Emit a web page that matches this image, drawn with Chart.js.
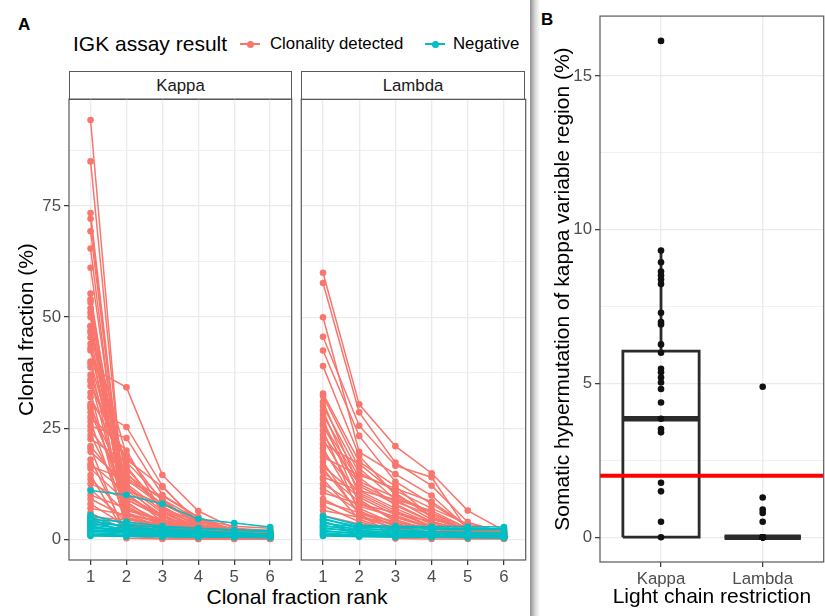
<!DOCTYPE html>
<html><head><meta charset="utf-8">
<script src="https://cdn.jsdelivr.net/npm/chart.js@4.4.1/dist/chart.umd.min.js"></script>
<style>
html,body{margin:0;padding:0;background:#fff}
body{position:relative;width:825px;height:616px;overflow:hidden;font-family:"Liberation Sans",Arial,Helvetica,sans-serif}
.abs{position:absolute;white-space:nowrap}
canvas{position:absolute;left:0;top:0}
.strip{position:absolute;box-sizing:border-box;border:1.2px solid #595959;background:#fff;color:#1a1a1a;font-size:16.8px;display:flex;align-items:center;justify-content:center}
.key{position:absolute;width:20px;height:10px}
.key .ln{position:absolute;left:0;right:0;top:4.25px;height:1.5px}
.key .dt{position:absolute;left:6.5px;top:1.5px;width:7px;height:7px;border-radius:50%}
</style></head><body>
<div class="abs" style="left:18px;top:15px;font-size:17px;font-weight:bold;line-height:20px">A</div>
<div class="abs" style="left:541px;top:10px;font-size:17px;font-weight:bold;line-height:20px">B</div>
<div class="abs" style="left:530px;top:0;width:10px;height:616px;background:linear-gradient(to right,#8f8f8f,#d6d6d6 50%,#fff)"></div>
<div id="legend"></div>
<div id="stripK" class="strip" style="left:69px;top:71px;width:223px;height:29px"></div>
<div id="stripL" class="strip" style="left:301px;top:71px;width:224px;height:29px"></div>
<div class="abs" id="xtitleA" style="left:147px;top:585px;width:300px;text-align:center;font-size:21px;line-height:24px;color:#000"></div>
<canvas id="cK" width="300" height="500"></canvas>
<canvas id="cL" width="240" height="500"></canvas>
<canvas id="cB" width="290" height="600"></canvas>
<script>
// ---------------- DATA ----------------
const ranks = [1, 2, 3, 4, 5, 6];
const seriesNames = ['Clonality detected', 'Negative'];
const legendTitle = 'IGK assay result';
const chainLabels = ['Kappa', 'Lambda'];
const xTitleA = 'Clonal fraction rank';
const yTitleA = 'Clonal fraction (%)';
const xTitleB = 'Light chain restriction';
const yTitleB = 'Somatic hypermutation of kappa variable region (%)';
const yMajorTicksA = [0, 25, 50, 75];
const yMinorTicksA = [12.5, 37.5, 62.5, 87.5];
const yMajorTicksB = [0, 5, 10, 15];
const yMinorTicksB = [2.5, 7.5, 12.5];

// clonal fraction (%) at ranks 1..6, one row per sample
const kappaDetected = [
  [94.3, 1.5, 1.0, 0.6, 0.4, 0.3],
  [85.0, 2.5, 1.5, 1.0, 0.6, 0.4],
  [73.4, 3.0, 2.0, 1.2, 0.8, 0.5],
  [72.1, 1.2, 0.8, 0.5, 0.4, 0.3],
  [69.3, 4.0, 2.5, 1.5, 1.0, 0.6],
  [65.4, 2.0, 1.5, 1.0, 0.7, 0.5],
  [61.1, 5.5, 3.0, 2.0, 1.2, 0.8],
  [55.3, 3.5, 2.0, 1.5, 1.0, 0.6],
  [54.0, 8.0, 4.0, 2.0, 1.5, 1.0],
  [53.3, 1.0, 0.6, 0.4, 0.3, 0.2],
  [52.0, 6.0, 3.5, 2.5, 1.5, 1.0],
  [51.0, 10.0, 5.0, 3.0, 2.0, 1.2],
  [50.0, 2.8, 1.8, 1.2, 0.9, 0.6],
  [48.0, 12.0, 6.0, 3.0, 2.0, 1.5],
  [47.9, 4.5, 3.0, 2.0, 1.0, 0.8],
  [47.0, 19.0, 8.5, 3.5, 1.5, 0.8],
  [46.5, 15.0, 7.0, 4.0, 2.5, 1.5],
  [45.4, 7.0, 4.0, 2.5, 1.5, 1.0],
  [44.0, 1.8, 1.2, 0.8, 0.5, 0.3],
  [43.0, 16.5, 6.5, 2.5, 1.0, 0.5],
  [42.5, 9.0, 5.0, 3.0, 2.0, 1.5],
  [40.0, 11.0, 8.0, 4.0, 2.0, 1.0],
  [39.5, 3.2, 2.0, 1.5, 1.0, 0.5],
  [38.7, 34.2, 14.5, 6.4, 2.5, 2.0],
  [37.0, 13.0, 9.8, 5.0, 1.5, 1.0],
  [36.0, 5.0, 3.0, 2.0, 1.2, 0.8],
  [35.5, 14.5, 9.0, 4.5, 2.0, 1.0],
  [34.5, 18.0, 11.8, 4.0, 2.0, 1.5],
  [33.0, 2.2, 1.5, 1.0, 0.7, 0.5],
  [32.0, 16.0, 7.0, 3.0, 1.0, 0.5],
  [30.5, 6.5, 4.5, 3.0, 2.0, 1.0],
  [30.0, 25.3, 12.0, 3.5, 1.0, 0.5],
  [29.5, 12.0, 4.5, 2.0, 1.0, 0.5],
  [28.6, 9.5, 5.5, 2.0, 1.5, 1.0],
  [27.5, 20.0, 6.0, 2.5, 1.5, 0.8],
  [26.5, 4.0, 2.5, 1.5, 1.0, 0.6],
  [25.5, 22.8, 10.0, 5.0, 2.0, 1.5],
  [24.5, 14.0, 8.0, 4.5, 3.0, 2.5],
  [23.5, 7.5, 3.5, 2.0, 1.2, 0.8],
  [22.6, 17.4, 9.0, 3.0, 1.0, 0.4],
  [21.0, 11.0, 5.5, 2.0, 0.9, 0.4],
  [20.5, 0.3, 0.1, 0.1, 0.1, 0.1],
  [19.7, 12.5, 6.5, 3.5, 2.0, 1.0],
  [18.0, 1.5, 1.0, 0.8, 0.5, 0.3],
  [17.0, 10.5, 4.0, 1.5, 0.8, 0.5],
  [16.5, 13.5, 7.5, 3.0, 1.5, 0.6],
  [15.9, 8.5, 3.0, 1.2, 0.8, 0.4],
  [14.5, 0.8, 0.2, 0.1, 0.1, 0.1],
  [13.6, 6.0, 2.0, 1.0, 0.5, 0.2],
  [12.5, 9.0, 5.0, 2.5, 1.5, 1.0],
  [11.3, 4.0, 1.5, 0.5, 0.3, 0.2],
  [10.0, 7.0, 3.0, 1.5, 0.5, 0.3],
  [9.1, 5.0, 2.0, 1.0, 0.5, 0.2],
  [8.0, 3.0, 1.5, 0.6, 0.4, 0.2],
  [7.0, 5.5, 4.0, 3.0, 2.0, 1.5],
  [6.0, 2.0, 1.0, 0.5, 0.3, 0.2],
  [5.0, 4.5, 3.5, 2.0, 1.2, 0.5],
  [4.0, 3.0, 2.0, 1.0, 0.5, 0.3]
];
const kappaNegative = [
  [11.0, 10.0, 8.0, 4.6, 3.7, 2.8],
  [5.5, 3.5, 2.5, 2.0, 1.5, 1.2],
  [5.0, 2.5, 2.0, 1.5, 1.2, 1.0],
  [4.8, 1.2, 1.0, 0.8, 0.6, 0.5],
  [4.5, 4.0, 3.0, 2.5, 2.0, 1.8],
  [4.2, 3.0, 2.2, 1.8, 1.5, 1.3],
  [3.8, 2.0, 1.5, 1.2, 1.0, 0.8],
  [3.5, 3.2, 2.8, 2.5, 2.2, 2.0],
  [3.2, 2.5, 2.0, 1.5, 1.2, 1.0],
  [3.0, 1.5, 1.2, 1.0, 0.8, 0.7],
  [2.8, 2.2, 1.8, 1.6, 1.4, 1.2],
  [2.5, 2.0, 1.6, 1.4, 1.2, 1.0],
  [2.2, 1.8, 1.5, 1.3, 1.1, 1.0],
  [2.0, 1.6, 1.4, 1.2, 1.0, 0.9],
  [1.8, 1.5, 1.3, 1.1, 1.0, 0.8],
  [1.5, 1.2, 1.0, 0.9, 0.8, 0.7],
  [1.2, 1.0, 0.9, 0.8, 0.7, 0.6],
  [1.0, 0.8, 0.7, 0.6, 0.5, 0.5],
  [0.8, 0.7, 0.6, 0.5, 0.5, 0.4]
];
const lambdaDetected = [
  [60.0, 30.4, 21.0, 14.9, 6.5, 2.0],
  [57.7, 28.6, 17.3, 12.1, 3.9, 1.5],
  [50.0, 19.7, 14.7, 9.9, 2.5, 1.0],
  [45.6, 25.6, 16.6, 14.0, 2.0, 1.2],
  [42.5, 23.3, 13.0, 8.0, 3.0, 1.5],
  [39.0, 18.8, 10.0, 6.0, 2.0, 0.8],
  [32.8, 17.5, 12.0, 5.0, 1.5, 1.0],
  [32.3, 16.0, 9.0, 4.5, 2.5, 1.2],
  [31.0, 12.0, 8.0, 4.0, 1.0, 0.5],
  [30.0, 15.0, 11.0, 7.0, 3.5, 1.8],
  [29.0, 10.0, 6.0, 3.0, 1.5, 0.8],
  [28.0, 14.0, 7.6, 4.0, 2.0, 1.0],
  [27.0, 8.0, 5.0, 2.5, 1.0, 0.5],
  [26.0, 13.0, 9.5, 6.0, 2.5, 1.2],
  [25.6, 11.0, 7.0, 3.5, 1.5, 0.6],
  [24.5, 6.0, 3.0, 1.5, 1.0, 0.5],
  [23.5, 12.5, 8.5, 5.5, 2.0, 1.0],
  [22.6, 9.0, 4.0, 2.0, 0.8, 0.4],
  [21.5, 17.0, 10.5, 5.0, 2.2, 1.5],
  [20.5, 7.0, 3.5, 1.0, 0.5, 0.3],
  [19.5, 10.5, 6.5, 3.0, 1.0, 0.6],
  [18.5, 14.5, 11.5, 8.5, 3.0, 1.8],
  [17.5, 5.5, 2.5, 1.2, 0.6, 0.3],
  [16.5, 9.5, 5.5, 2.5, 1.5, 0.8],
  [16.0, 6.0, 0.2, 0.1, 0.1, 0.1],
  [15.2, 8.5, 4.5, 2.0, 1.2, 0.6],
  [14.0, 11.0, 9.0, 6.5, 2.5, 1.5],
  [13.6, 4.5, 2.0, 0.8, 0.4, 0.2],
  [12.5, 7.5, 5.0, 3.0, 1.5, 1.0],
  [11.5, 6.5, 3.0, 1.5, 0.8, 0.4],
  [10.5, 8.0, 6.0, 4.0, 2.0, 1.2],
  [9.1, 5.0, 2.5, 1.0, 0.5, 0.3],
  [8.5, 6.0, 4.0, 2.5, 1.5, 0.8],
  [7.6, 4.0, 2.0, 1.0, 0.5, 0.2],
  [6.5, 5.0, 3.5, 2.5, 1.5, 1.0],
  [5.4, 3.5, 2.5, 1.5, 1.0, 0.5]
];
const lambdaNegative = [
  [5.3, 3.2, 3.0, 2.9, 2.9, 2.8],
  [4.8, 2.5, 2.0, 1.8, 1.6, 1.5],
  [4.5, 3.0, 2.8, 2.6, 2.5, 2.4],
  [4.2, 1.0, 0.8, 0.6, 0.5, 0.4],
  [4.0, 2.0, 1.5, 1.2, 1.0, 0.8],
  [3.6, 2.8, 2.5, 2.3, 2.2, 2.2],
  [3.2, 1.8, 1.2, 1.0, 0.8, 0.7],
  [3.0, 2.5, 2.0, 1.8, 1.6, 1.5],
  [2.7, 1.5, 1.0, 0.9, 0.8, 0.7],
  [2.4, 2.0, 1.7, 1.5, 1.3, 1.2],
  [2.1, 1.2, 0.9, 0.8, 0.7, 0.6],
  [1.8, 1.5, 1.3, 1.1, 1.0, 0.9],
  [1.5, 1.0, 0.8, 0.7, 0.6, 0.5],
  [1.2, 0.9, 0.8, 0.7, 0.6, 0.5],
  [1.0, 0.8, 0.7, 0.6, 0.5, 0.4],
  [0.8, 0.6, 0.5, 0.5, 0.4, 0.4]
];

// Panel B: somatic hypermutation (%)
const shmKappa = [16.14, 9.32, 8.94, 8.64, 8.51, 8.38, 8.23, 7.30, 7.00, 6.92, 6.27, 6.00,
  5.48, 5.36, 5.19, 5.03, 4.82, 4.38, 3.85, 3.52, 3.41, 1.77, 1.49, 0.50, 0];
const shmLambda = [4.89, 1.29, 0.90, 0.79, 0.50, 0, 0, 0, 0, 0, 0, 0, 0, 0, 0];
// box statistics per chain [Kappa, Lambda]
const boxQ1 = [0, 0];
const boxMedian = [3.85, 0];
const boxQ3 = [6.05, 0];
const whiskerLow = [0, 0];
const whiskerHigh = [9.32, 0];
const shmThreshold = 2;

// ---------------- STYLE ----------------
const FONT = '"Liberation Sans", Arial, Helvetica, sans-serif';
const RED = '#F8766D', TEAL = '#00BFC4';
const GRID = '#EBEBEB', TICK = '#4D4D4D', TICKMARK = '#333333', BORDER = '#595959';
const BOXCOL = '#2B2B2B';
Chart.defaults.font.family = FONT;

const borderPlugin = {
  id: 'pborder',
  afterDraw(chart) {
    const a = chart.chartArea, ctx = chart.ctx;
    ctx.save();
    ctx.strokeStyle = BORDER; ctx.lineWidth = 1.2;
    ctx.strokeRect(a.left, a.top, a.right - a.left, a.bottom - a.top);
    ctx.restore();
  }
};

function place(chart, box) {
  const cv = chart.canvas;
  for (let k = 0; k < 4; k++) {
    const a = chart.chartArea;
    const w = Math.round(chart.width + (box.r - box.l) - (a.right - a.left));
    const h = Math.round(chart.height + (box.b - box.t) - (a.bottom - a.top));
    if (w !== chart.width || h !== chart.height) chart.resize(w, h);
    const a2 = chart.chartArea;
    cv.style.left = (box.l - a2.left) + 'px';
    cv.style.top = (box.t - a2.top) + 'px';
  }
}

// legend + texts
(function () {
  const lg = document.getElementById('legend');
  const cy = 44;
  const items = [
    {html: legendTitle, left: 73, size: 21},
    {key: RED, left: 240},
    {html: seriesNames[0], left: 270, size: 16.8},
    {key: TEAL, left: 425},
    {html: seriesNames[1], left: 453, size: 16.8}
  ];
  items.forEach(it => {
    const d = document.createElement('div');
    if (it.key) {
      d.className = 'key';
      d.style.left = it.left + 'px'; d.style.top = (cy - 5) + 'px';
      d.innerHTML = '<div class="ln" style="background:' + it.key + '"></div><div class="dt" style="background:' + it.key + '"></div>';
    } else {
      d.className = 'abs';
      d.style.left = it.left + 'px'; d.style.top = (cy - 12) + 'px';
      d.style.lineHeight = '24px'; d.style.fontSize = it.size + 'px'; d.style.color = '#000';
      d.textContent = it.html;
    }
    lg.appendChild(d);
  });
  document.getElementById('stripK').textContent = chainLabels[0];
  document.getElementById('stripL').textContent = chainLabels[1];
  document.getElementById('xtitleA').textContent = xTitleA;
})();

// ---------------- PANEL A ----------------
const allA = [...kappaDetected, ...kappaNegative, ...lambdaDetected, ...lambdaNegative].flat();
const aMin = Math.min(...allA), aMax = Math.max(...allA);
const aPad = (aMax - aMin) * 0.05;
const yGridA = [...yMajorTicksA, ...yMinorTicksA].sort((p, q) => p - q);

function series(row, color, order) {
  return {
    data: row.map((v, i) => ({x: ranks[i], y: v})).filter(p => p.y !== null),
    showLine: true, borderColor: color, backgroundColor: color, borderWidth: 1.5,
    pointRadius: 3.3, pointBorderWidth: 0, pointHoverRadius: 0, order: order
  };
}

function makeA(id, detected, negative, showY) {
  const ds = [...negative.map(r => series(r, TEAL, 0)), ...detected.map(r => series(r, RED, 1))];
  return new Chart(document.getElementById(id), {
    type: 'scatter',
    data: {datasets: ds},
    options: {
      responsive: false, maintainAspectRatio: false, animation: false, devicePixelRatio: 1,
      events: [], layout: {padding: {left: 2, right: 2, top: 2, bottom: 0}},
      plugins: {legend: {display: false}, tooltip: {enabled: false}},
      scales: {
        x: {
          type: 'linear', min: ranks[0] - 0.6, max: ranks[ranks.length - 1] + 0.6,
          afterBuildTicks: s => { s.ticks = ranks.map(v => ({value: v})); },
          afterFit: s => { s.height = 30; },
          grid: {color: GRID, lineWidth: 1.3, tickColor: TICKMARK, tickLength: 5, tickWidth: 1.2},
          border: {display: false},
          ticks: {autoSkip: false, maxRotation: 0, color: TICK, font: {size: 16.8}, padding: 2, callback: v => String(v)}
        },
        y: {
          type: 'linear', min: aMin - aPad, max: aMax + aPad,
          afterBuildTicks: s => { s.ticks = yGridA.map(v => ({value: v})); },
          afterFit: s => { s.width = showY ? 69 : 0; },
          grid: {
            color: GRID,
            lineWidth: c => (c.tick && yMajorTicksA.includes(c.tick.value)) ? 1.3 : 0.7,
            tickColor: c => (c.tick && yMajorTicksA.includes(c.tick.value)) ? TICKMARK : 'rgba(0,0,0,0)',
            tickLength: 5, tickWidth: 1.2, drawTicks: showY
          },
          border: {display: false},
          ticks: {display: showY, autoSkip: false, color: TICK, font: {size: 16.8}, padding: 3,
            callback: v => yMajorTicksA.includes(v) ? String(v) : ''},
          title: {display: showY, text: yTitleA, color: '#000', font: {size: 21}, padding: {top: 14.4, bottom: 0}}
        }
      }
    },
    plugins: [borderPlugin]
  });
}

const chartK = makeA('cK', kappaDetected, kappaNegative, true);
const chartL = makeA('cL', lambdaDetected, lambdaNegative, false);
place(chartK, {l: 69, r: 292, t: 99, b: 560});
place(chartL, {l: 301, r: 525, t: 99, b: 560});

// ---------------- PANEL B ----------------
const allB = [...shmKappa, ...shmLambda];
const bMin = Math.min(...allB), bMax = Math.max(...allB);
const bPad = (bMax - bMin) * 0.05;
const xMinB = 0.4, xMaxB = chainLabels.length + 0.6;
const HW = 0.375; // half box width, in category units
const yGridB = [...yMajorTicksB, ...yMinorTicksB].sort((p, q) => p - q);

const dsB = [];
chainLabels.forEach((c, i) => {
  const x = i + 1;
  dsB.push({data: [{x: x - HW, y: boxQ1[i]}, {x: x - HW, y: boxQ3[i]}, {x: x + HW, y: boxQ3[i]}, {x: x + HW, y: boxQ1[i]}, {x: x - HW, y: boxQ1[i]}],
    showLine: true, borderColor: BOXCOL, borderWidth: 2.8, borderJoinStyle: 'miter', pointRadius: 0, order: 4});
  dsB.push({data: [{x: x, y: boxQ3[i]}, {x: x, y: whiskerHigh[i]}], showLine: true, borderColor: BOXCOL, borderWidth: 2.8, pointRadius: 0, order: 4});
  dsB.push({data: [{x: x, y: boxQ1[i]}, {x: x, y: whiskerLow[i]}], showLine: true, borderColor: BOXCOL, borderWidth: 2.8, pointRadius: 0, order: 4});
  dsB.push({data: [{x: x - HW, y: boxMedian[i]}, {x: x + HW, y: boxMedian[i]}], showLine: true, borderColor: BOXCOL, borderWidth: 5.5, pointRadius: 0, order: 3});
});
dsB.push({data: [{x: xMinB, y: shmThreshold}, {x: xMaxB, y: shmThreshold}], showLine: true, borderColor: '#FF0000', borderWidth: 4, pointRadius: 0, order: 1});
dsB.push({data: [...shmKappa.map(v => ({x: 1, y: v})), ...shmLambda.map(v => ({x: 2, y: v}))],
  showLine: false, pointRadius: 3.3, pointBorderWidth: 0, backgroundColor: '#111111', pointHoverRadius: 0, order: 0});

const chartB = new Chart(document.getElementById('cB'), {
  type: 'scatter',
  data: {datasets: dsB},
  options: {
    responsive: false, maintainAspectRatio: false, animation: false, devicePixelRatio: 1,
    events: [], layout: {padding: {left: 0, right: 2, top: 2, bottom: 0}},
    plugins: {legend: {display: false}, tooltip: {enabled: false}},
    scales: {
      x: {
        type: 'linear', min: xMinB, max: xMaxB,
        afterBuildTicks: s => { s.ticks = chainLabels.map((c, i) => ({value: i + 1})); },
        afterFit: s => { s.height = 54; },
        grid: {color: GRID, lineWidth: 1.3, tickColor: TICKMARK, tickLength: 5, tickWidth: 1.2},
        border: {display: false},
        ticks: {autoSkip: false, maxRotation: 0, color: TICK, font: {size: 16.8}, padding: 2,
          callback: v => chainLabels[Math.round(v) - 1]},
        title: {display: true, text: xTitleB, color: '#000', font: {size: 21}, padding: {top: 0, bottom: 6}}
      },
      y: {
        type: 'linear', min: bMin - bPad, max: bMax + bPad,
        afterBuildTicks: s => { s.ticks = yGridB.map(v => ({value: v})); },
        afterFit: s => { s.width = 60; },
        grid: {
          color: GRID,
          lineWidth: c => (c.tick && yMajorTicksB.includes(c.tick.value)) ? 1.3 : 0.7,
          tickColor: c => (c.tick && yMajorTicksB.includes(c.tick.value)) ? TICKMARK : 'rgba(0,0,0,0)',
          tickLength: 5, tickWidth: 1.2
        },
        border: {display: false},
        ticks: {autoSkip: false, color: TICK, font: {size: 16.8}, padding: 3,
          callback: v => yMajorTicksB.includes(v) ? String(v) : ''},
        title: {display: true, text: yTitleB, color: '#000', font: {size: 21}, padding: {top: 10.4, bottom: 0}}
      }
    }
  },
  plugins: [borderPlugin]
});
place(chartB, {l: 600, r: 824, t: 16, b: 562});
</script>
</body></html>
